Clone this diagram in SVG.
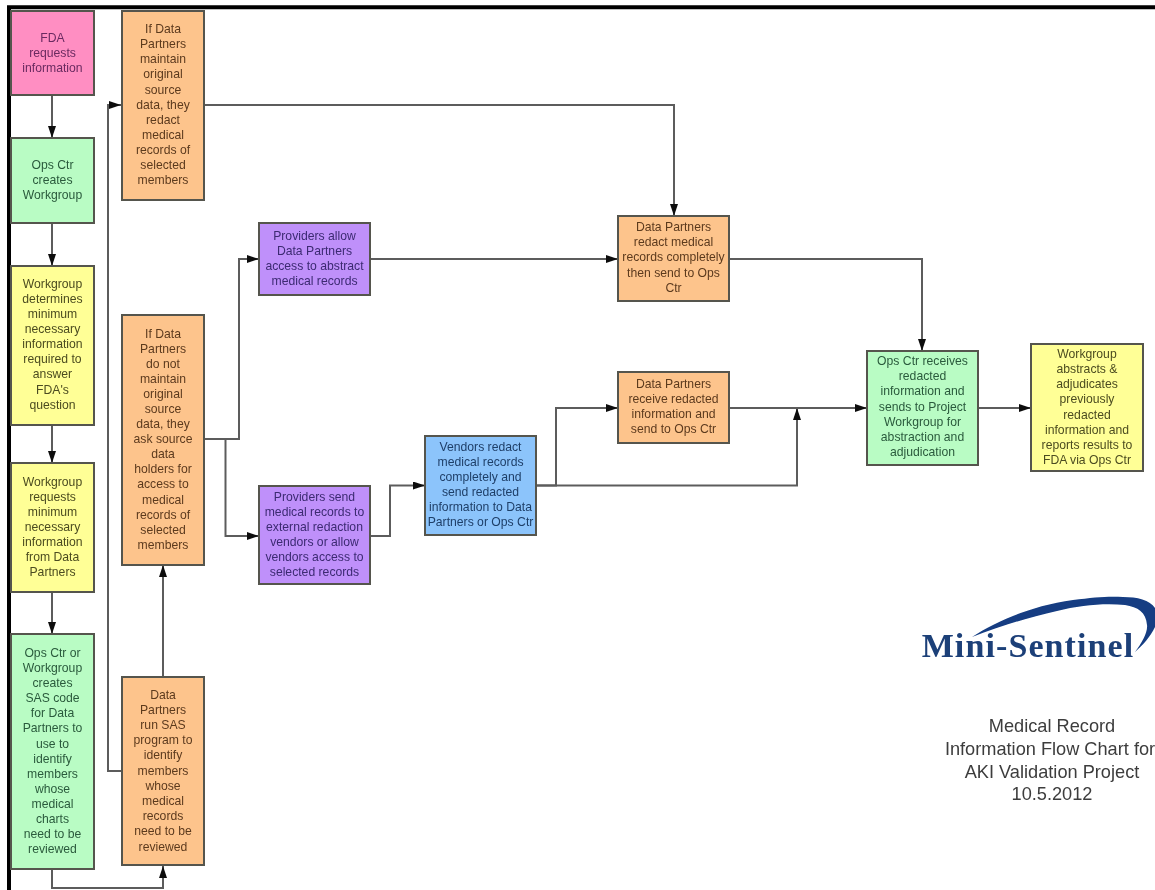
<svg xmlns="http://www.w3.org/2000/svg" width="1155" height="890" viewBox="0 0 1155 890">
<style>
.b{stroke:#55554e;stroke-width:2}
.pink{fill:#ff8ec2}.green{fill:#b9fcc4}.yellow{fill:#ffff96}.orange{fill:#fdc48c}.purple{fill:#bf90fa}.blue{fill:#8cc4fb}
text{font-family:"Liberation Sans",Arial,sans-serif;font-size:12.2px;text-anchor:middle}
.tp text{fill:#6a2a60}.tg text{fill:#2a5a3c}.ty text{fill:#4c4c20}.to text{fill:#5c3a1e}.tu text{fill:#3c2a72}.tb text{fill:#1f3f68}
.c{fill:none;stroke:#5c5c5c;stroke-width:2}
.t text{font-size:18.200px;fill:#3c3c3c}
</style>
<defs>
<marker id="a" viewBox="0 0 12 8" refX="12" refY="4" markerWidth="12" markerHeight="8" markerUnits="userSpaceOnUse" orient="auto"><path d="M0 0L12 4L0 8Z" fill="#111"/></marker>
<filter id="s" filterUnits="userSpaceOnUse" x="0" y="0" width="1155" height="890"><feGaussianBlur stdDeviation="0.45"/></filter>
</defs>
<rect width="1155" height="890" fill="#fff"/>
<g filter="url(#s)">
<path d="M9 890V7.300H1155" fill="none" stroke="#000" stroke-width="4"/>
<g id="connectors">
<path class="c" marker-end="url(#a)" d="M52 95V138"/>
<path class="c" marker-end="url(#a)" d="M52 223V266"/>
<path class="c" marker-end="url(#a)" d="M52 425V463"/>
<path class="c" marker-end="url(#a)" d="M52 592V634"/>
<path class="c" marker-end="url(#a)" d="M52 869V888H163V866"/>
<path class="c" marker-end="url(#a)" d="M122 771H108V105H121"/>
<path class="c" marker-end="url(#a)" d="M163 677V565"/>
<path class="c" marker-end="url(#a)" d="M204 105H674V216"/>
<path class="c" marker-end="url(#a)" d="M204 439H239V259H259"/>
<path class="c" marker-end="url(#a)" d="M225.500 439V536H259"/>
<path class="c" marker-end="url(#a)" d="M370 259H618"/>
<path class="c" marker-end="url(#a)" d="M370 536H390V485.500H425"/>
<path class="c" marker-end="url(#a)" d="M536 485.500H556V408H618"/>
<path class="c" marker-end="url(#a)" d="M536 485.500H797V408"/>
<path class="c" marker-end="url(#a)" d="M729 408H867"/>
<path class="c" marker-end="url(#a)" d="M729 259H922V351"/>
<path class="c" marker-end="url(#a)" d="M978 408H1031"/>
</g>
<g id="n1" class="tp"><rect class="b pink" x="11" y="11" width="83" height="84"/><text x="52.500" y="42">FDA</text><text x="52.500" y="57">requests</text><text x="52.500" y="72">information</text></g>
<g id="n2" class="tg"><rect class="b green" x="11" y="138" width="83" height="85"/><text x="52.500" y="169">Ops Ctr</text><text x="52.500" y="184">creates</text><text x="52.500" y="199">Workgroup</text></g>
<g id="n3" class="ty"><rect class="b yellow" x="11" y="266" width="83" height="159"/><text x="52.500" y="288">Workgroup</text><text x="52.500" y="303">determines</text><text x="52.500" y="318">minimum</text><text x="52.500" y="333">necessary</text><text x="52.500" y="348">information</text><text x="52.500" y="363">required to</text><text x="52.500" y="378">answer</text><text x="52.500" y="394">FDA's</text><text x="52.500" y="409">question</text></g>
<g id="n4" class="ty"><rect class="b yellow" x="11" y="463" width="83" height="129"/><text x="52.500" y="486">Workgroup</text><text x="52.500" y="501">requests</text><text x="52.500" y="516">minimum</text><text x="52.500" y="531">necessary</text><text x="52.500" y="546">information</text><text x="52.500" y="561">from Data</text><text x="52.500" y="576">Partners</text></g>
<g id="n5" class="tg"><rect class="b green" x="11" y="634" width="83" height="235"/><text x="52.500" y="657">Ops Ctr or</text><text x="52.500" y="672">Workgroup</text><text x="52.500" y="687">creates</text><text x="52.500" y="702">SAS code</text><text x="52.500" y="717">for Data</text><text x="52.500" y="732">Partners to</text><text x="52.500" y="748">use to</text><text x="52.500" y="763">identify</text><text x="52.500" y="778">members</text><text x="52.500" y="793">whose</text><text x="52.500" y="808">medical</text><text x="52.500" y="823">charts</text><text x="52.500" y="838">need to be</text><text x="52.500" y="853">reviewed</text></g>
<g id="n6" class="to"><rect class="b orange" x="122" y="11" width="82" height="189"/><text x="163" y="33">If Data</text><text x="163" y="48">Partners</text><text x="163" y="63">maintain</text><text x="163" y="78">original</text><text x="163" y="94">source</text><text x="163" y="109">data, they</text><text x="163" y="124">redact</text><text x="163" y="139">medical</text><text x="163" y="154">records of</text><text x="163" y="169">selected</text><text x="163" y="184">members</text></g>
<g id="n7" class="to"><rect class="b orange" x="122" y="315" width="82" height="250"/><text x="163" y="338">If Data</text><text x="163" y="353">Partners</text><text x="163" y="368">do not</text><text x="163" y="383">maintain</text><text x="163" y="398">original</text><text x="163" y="413">source</text><text x="163" y="428">data, they</text><text x="163" y="443">ask source</text><text x="163" y="458">data</text><text x="163" y="473">holders for</text><text x="163" y="488">access to</text><text x="163" y="504">medical</text><text x="163" y="519">records of</text><text x="163" y="534">selected</text><text x="163" y="549">members</text></g>
<g id="n8" class="to"><rect class="b orange" x="122" y="677" width="82" height="188"/><text x="163" y="699">Data</text><text x="163" y="714">Partners</text><text x="163" y="729">run SAS</text><text x="163" y="744">program to</text><text x="163" y="759">identify</text><text x="163" y="775">members</text><text x="163" y="790">whose</text><text x="163" y="805">medical</text><text x="163" y="820">records</text><text x="163" y="835">need to be</text><text x="163" y="851">reviewed</text></g>
<g id="n9" class="tu"><rect class="b purple" x="259" y="223" width="111" height="72"/><text x="314.500" y="240">Providers allow</text><text x="314.500" y="255">Data Partners</text><text x="314.500" y="270">access to abstract</text><text x="314.500" y="285">medical records</text></g>
<g id="n10" class="tu"><rect class="b purple" x="259" y="486" width="111" height="98"/><text x="314.500" y="501">Providers send</text><text x="314.500" y="516">medical records to</text><text x="314.500" y="531">external redaction</text><text x="314.500" y="546">vendors or allow</text><text x="314.500" y="561">vendors access to</text><text x="314.500" y="576">selected records</text></g>
<g id="n11" class="tb"><rect class="b blue" x="425" y="436" width="111" height="99"/><text x="480.500" y="451">Vendors redact</text><text x="480.500" y="466">medical records</text><text x="480.500" y="481">completely and</text><text x="480.500" y="496">send redacted</text><text x="480.500" y="511">information to Data</text><text x="480.500" y="526">Partners or Ops Ctr</text></g>
<g id="n12" class="to"><rect class="b orange" x="618" y="216" width="111" height="85"/><text x="673.500" y="231">Data Partners</text><text x="673.500" y="246">redact medical</text><text x="673.500" y="261">records completely</text><text x="673.500" y="277">then send to Ops</text><text x="673.500" y="292">Ctr</text></g>
<g id="n13" class="to"><rect class="b orange" x="618" y="372" width="111" height="71"/><text x="673.500" y="388">Data Partners</text><text x="673.500" y="403">receive redacted</text><text x="673.500" y="418">information and</text><text x="673.500" y="433">send to Ops Ctr</text></g>
<g id="n14" class="tg"><rect class="b green" x="867" y="351" width="111" height="114"/><text x="922.500" y="365">Ops Ctr receives</text><text x="922.500" y="380">redacted</text><text x="922.500" y="395">information and</text><text x="922.500" y="411">sends to Project</text><text x="922.500" y="426">Workgroup for</text><text x="922.500" y="441">abstraction and</text><text x="922.500" y="456">adjudication</text></g>
<g id="n15" class="ty"><rect class="b yellow" x="1031" y="344" width="112" height="127"/><text x="1087" y="358">Workgroup</text><text x="1087" y="373">abstracts &amp;</text><text x="1087" y="388">adjudicates</text><text x="1087" y="403">previously</text><text x="1087" y="419">redacted</text><text x="1087" y="434">information and</text><text x="1087" y="449">reports results to</text><text x="1087" y="464">FDA via Ops Ctr</text></g>
<path d="M972 637C995 622 1030 606 1073 600C1095 597 1110 596 1123 597C1137 597 1150 600 1155 608L1155 627C1150 637 1143 645 1135 652C1142 643 1148 632 1147 625C1146 612 1138 607 1125 605C1105 603 1080 605 1057 611C1030 617 1000 626 972 637Z" fill="#143c82"/>
<text x="1028" y="657" style="font-family:'Liberation Serif',serif;font-size:34px;letter-spacing:1.100px;font-weight:bold;fill:#1c3f78">Mini-Sentinel</text>
<g class="t"><text x="1052" y="732">Medical Record</text><text x="1050" y="755">Information Flow Chart for</text><text x="1052" y="778">AKI Validation Project</text><text x="1052" y="800">10.5.2012</text></g>
</g>
</svg>
